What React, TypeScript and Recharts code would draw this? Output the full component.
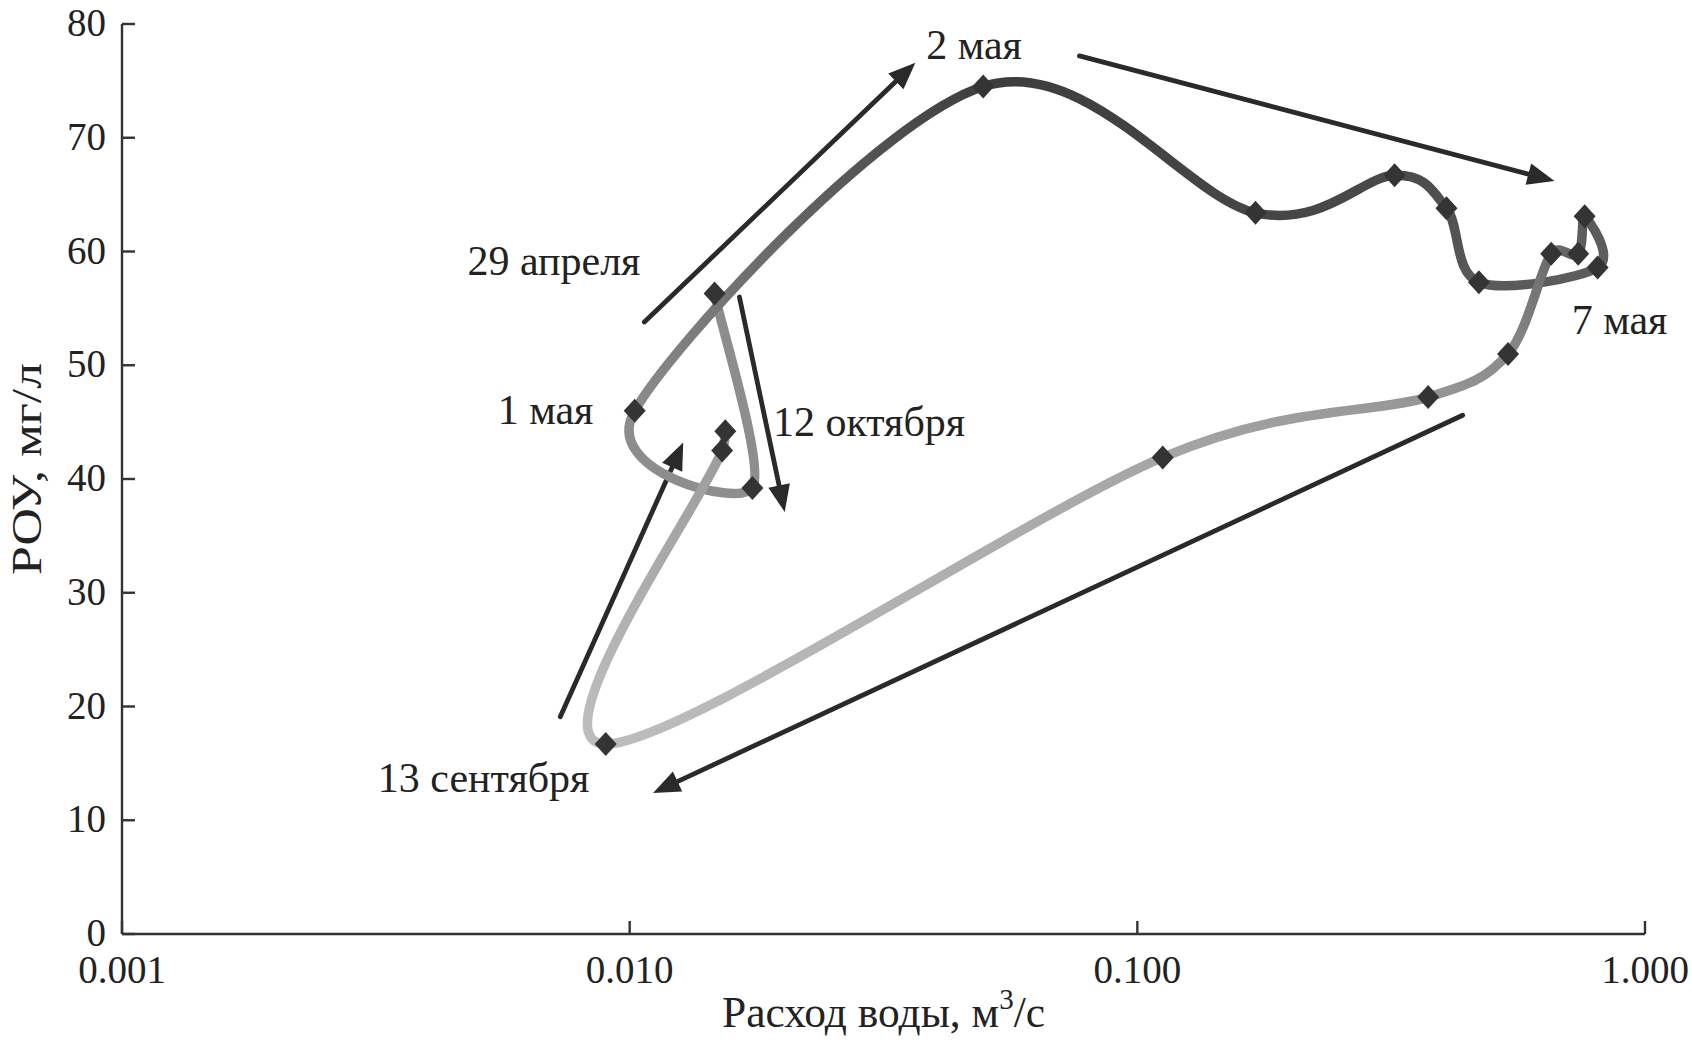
import React from 'react';
import { ComposedChart, Line, Scatter, XAxis, YAxis, ReferenceLine } from 'recharts';

const FONT = '"Liberation Serif", "Times New Roman", serif';

// Hysteresis loop, chronological order
const dischargeValues = [0.0147, 0.01745, 0.01023, 0.0497, 0.1709, 0.3212, 0.4064, 0.4708, 0.8066, 0.7605, 0.7386, 0.6535, 0.5373, 0.374, 0.1122, 0.00897, 0.01521, 0.01543];
const rouValues = [56.3, 39.2, 46.0, 74.5, 63.4, 66.7, 63.8, 57.3, 58.6, 63.1, 59.8, 59.8, 51.0, 47.2, 41.9, 16.7, 42.5, 44.2];
const pointShades = ['#8c8c8c', '#8e8e8e', '#8c8c8c', '#3e3e3e', '#464646', '#4a4a4a', '#505050', '#5a5a5a', '#5e5e5e', '#5a5a5a', '#606060', '#6a6a6a', '#8a8a8a', '#969696', '#a6a6a6', '#bdbdbd', '#9c9c9c', '#929292'];

const xTicks = [0.001, 0.01, 0.1, 1];
const yTicks = [0, 10, 20, 30, 40, 50, 60, 70, 80];

const dateLabels = ['2 мая', '29 апреля', '1 мая', '12 октября', '7 мая', '13 сентября'];
const dateLabelQ = [0.03838, 0.004791, 0.005495, 0.01915, 0.7171, 0.003191];
const dateLabelRou = [78.1, 59.05, 46.0, 44.9, 53.9, 13.65];

const arrowStartQ = [0.01069, 0.0769, 0.4374, 0.0073, 0.01645];
const arrowStartRou = [53.8, 77.2, 45.6, 19.1, 56.0];
const arrowEndQ = [0.03654, 0.6633, 0.01112, 0.01275, 0.0202];
const arrowEndRou = [76.6, 66.2, 12.4, 43.2, 37.1];

const points = dischargeValues.map((q, i) => ({ q, v: rouValues[i] }));
const n = points.length;
const segments = points.slice(0, -1).map((_, i) => {
  const idx = [Math.max(i - 1, 0), i, i + 1, Math.min(i + 2, n - 1)];
  const dx = Math.log10(dischargeValues[i + 1]) - Math.log10(dischargeValues[i]);
  const dv = rouValues[i + 1] - rouValues[i];
  return {
    id: `seg${i}`,
    data: idx.map((k) => points[k]),
    from: pointShades[i],
    to: pointShades[i + 1],
    x1: dx >= 0 ? 0 : 1,
    y1: dv >= 0 ? 1 : 0,
  };
});
const labelData = dateLabels.map((text, i) => ({ q: dateLabelQ[i], v: dateLabelRou[i], text }));

// Catmull-Rom curve drawing only the middle piece of a 4-point window
const clampVec = (vx: number, vy: number, maxLen: number) => {
  const l = Math.sqrt(vx * vx + vy * vy);
  if (l <= maxLen || l === 0) return [vx, vy];
  return [(vx * maxLen) / l, (vy * maxLen) / l];
};
const segmentCurve = (context: any) => {
  let pts: number[][] = [];
  return {
    areaStart() {},
    areaEnd() {},
    lineStart() {
      pts = [];
    },
    point(x: number, y: number) {
      pts.push([+x, +y]);
    },
    lineEnd() {
      if (pts.length < 4) {
        pts.forEach((p, i) => (i === 0 ? context.moveTo(p[0], p[1]) : context.lineTo(p[0], p[1])));
        return;
      }
      const [p0, p1, p2, p3] = pts;
      const L = Math.hypot(p2[0] - p1[0], p2[1] - p1[1]);
      const d1 = clampVec((p2[0] - p0[0]) / 6, (p2[1] - p0[1]) / 6, L / 2);
      const d2 = clampVec((p3[0] - p1[0]) / 6, (p3[1] - p1[1]) / 6, L / 2);
      context.moveTo(p1[0], p1[1]);
      context.bezierCurveTo(p1[0] + d1[0], p1[1] + d1[1], p2[0] - d2[0], p2[1] - d2[1], p2[0], p2[1]);
    },
  };
};

const fmtX = (v: number) => v.toFixed(3);

const XTick = (props: any) => {
  const { x, y, payload } = props;
  return (
    <g>
      <line x1={x} x2={x} y1={y} y2={y - 13} stroke="#333" strokeWidth={2.4} />
      <text x={x} y={y + 49} textAnchor="middle" fontSize={39} fontFamily={FONT} fill="#222">
        {fmtX(payload.value)}
      </text>
    </g>
  );
};

const YTick = (props: any) => {
  const { x, y, payload } = props;
  return (
    <g>
      <line x1={x} x2={x + 13} y1={y} y2={y} stroke="#333" strokeWidth={2.4} />
      <text x={x - 16} y={y + 12} textAnchor="end" fontSize={39} fontFamily={FONT} fill="#222">
        {payload.value}
      </text>
    </g>
  );
};

const XTitle = (props: any) => {
  const vb = props.viewBox || {};
  const cx = vb.x + vb.width / 2;
  return (
    <text x={cx} y={vb.y + 93} textAnchor="middle" fontSize={43.5} fontFamily={FONT} fill="#222">
      <tspan>Расход воды, м</tspan>
      <tspan dy={-18} fontSize={29}>3</tspan>
      <tspan dy={18}>/с</tspan>
    </text>
  );
};

const YTitle = (props: any) => {
  const vb = props.viewBox || {};
  const cx = vb.x + 19;
  const cy = vb.y + vb.height / 2 - 10;
  return (
    <text
      x={cx}
      y={cy}
      transform={`rotate(-90 ${cx} ${cy})`}
      textAnchor="middle"
      dominantBaseline="central"
      fontSize={42}
      fontFamily={FONT}
      fill="#222"
      textLength={212}
      lengthAdjust="spacingAndGlyphs"
    >
      РОУ, мг/л
    </text>
  );
};

const Marker = (props: any) => {
  const { cx, cy } = props;
  if (cx == null || cy == null) return null;
  const w = 11;
  const h = 12;
  return (
    <polygon
      points={`${cx},${cy - h} ${cx + w},${cy} ${cx},${cy + h} ${cx - w},${cy}`}
      fill="#343434"
    />
  );
};

const DateText = (props: any) => {
  const { cx, cy, payload } = props;
  if (cx == null || cy == null) return null;
  return (
    <text x={cx} y={cy + 13} textAnchor="start" fontSize={42} fontFamily={FONT} fill="#222">
      {payload.text}
    </text>
  );
};

const Arrow = (props: any) => {
  const { x1, y1, x2, y2 } = props;
  const dx = x2 - x1;
  const dy = y2 - y1;
  const len = Math.sqrt(dx * dx + dy * dy) || 1;
  const ux = dx / len;
  const uy = dy / len;
  const headL = 27;
  const headW = 11;
  const bx = x2 - ux * headL;
  const by = y2 - uy * headL;
  const px = -uy;
  const py = ux;
  return (
    <g>
      <line x1={x1} y1={y1} x2={bx + ux * 2} y2={by + uy * 2} stroke="#2a2a2a" strokeWidth={4.8} strokeLinecap="round" />
      <polygon
        points={`${x2},${y2} ${bx + px * headW},${by + py * headW} ${bx - px * headW},${by - py * headW}`}
        fill="#2a2a2a"
      />
    </g>
  );
};

export default function App() {
  return (
    <div style={{ position: 'absolute', left: 0, top: 0, width: 1692, height: 1040, background: '#fff' }}>
      <ComposedChart width={1692} height={1040} margin={{ top: 24, right: 47, bottom: 0, left: 8 }}>
        <defs>
          {segments.map((s) => (
            <linearGradient key={s.id} id={s.id} x1={s.x1} y1={s.y1} x2={1 - s.x1} y2={1 - s.y1}>
              <stop offset="0%" stopColor={s.from} />
              <stop offset="100%" stopColor={s.to} />
            </linearGradient>
          ))}
        </defs>
        <XAxis
          type="number"
          dataKey="q"
          scale="log"
          domain={[0.001, 1]}
          ticks={xTicks}
          interval={0}
          height={106}
          tickSize={0}
          tickMargin={0}
          tickLine={false}
          tick={<XTick />}
          axisLine={{ stroke: '#333', strokeWidth: 2.4 }}
          label={<XTitle />}
        />
        <YAxis
          type="number"
          dataKey="v"
          domain={[0, 80]}
          ticks={yTicks}
          interval={0}
          width={114}
          tickSize={0}
          tickMargin={0}
          tickLine={false}
          tick={<YTick />}
          axisLine={{ stroke: '#333', strokeWidth: 2.4 }}
          label={<YTitle />}
        />
        {arrowStartQ.map((q, i) => (
          <ReferenceLine
            key={`arrow${i}`}
            segment={[
              { x: q, y: arrowStartRou[i] },
              { x: arrowEndQ[i], y: arrowEndRou[i] },
            ]}
            shape={(p: any) => <Arrow {...p} />}
          />
        ))}
        {segments.map((s) => (
          <Line
            key={s.id}
            data={s.data}
            dataKey="v"
            type={segmentCurve as any}
            stroke={`url(#${s.id})`}
            strokeWidth={9.5}
            strokeLinecap="round"
            dot={false}
            activeDot={false}
            isAnimationActive={false}
            legendType="none"
          />
        ))}
        <Scatter data={points} dataKey="v" shape={(p: any) => <Marker {...p} />} isAnimationActive={false} />
        <Scatter data={labelData} dataKey="v" shape={(p: any) => <DateText {...p} />} isAnimationActive={false} />
      </ComposedChart>
    </div>
  );
}
